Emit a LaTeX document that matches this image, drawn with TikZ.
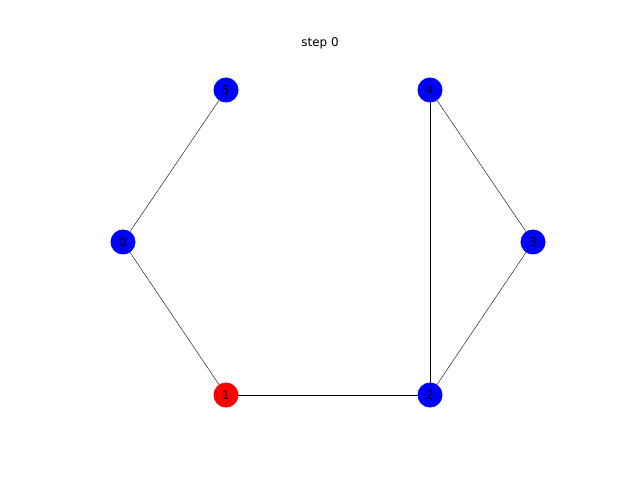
\documentclass[tikz,border=0pt]{standalone}
\usepackage{fontspec}
\setmainfont{DejaVu Sans}
\usepackage{tikz}
\usetikzlibrary{backgrounds}

\begin{document}
\begin{tikzpicture}[x=1pt,y=1pt]\tikzstyle{every node}+=[inner sep=0pt]
	  \tikzstyle{vtx}=[circle,minimum size=25pt,font=\fontsize{12}{12}\selectfont]
	  \useasboundingbox (0,0) rectangle (640,480);
	  \draw (320,437) node {\fontsize{12}{12}\selectfont step 0};
	  \node [vtx,fill=blue] (v0) at (123,238) {0};
	  \node [vtx,fill=red] (v1) at (226,85) {1};
	  \node [vtx,fill=blue] (v2) at (430,85) {2};
	  \node [vtx,fill=blue] (v3) at (533,238) {3};
	  \node [vtx,fill=blue] (v4) at (430,390) {4};
	  \node [vtx,fill=blue] (v5) at (226,390) {5};
	  \begin{scope}[on background layer,line width=1pt]
	  \draw [black] (v5.center) -- (v0.center);
	  \draw [black] (v0.center) -- (v1.center);
	  \draw [black] (v1.center) -- (v2.center);
	  \draw [black] (v2.center) -- (v4.center);
	  \draw [black] (v4.center) -- (v3.center);
	  \draw [black] (v3.center) -- (v2.center);
	  \end{scope}
	\end{tikzpicture}
\end{document}
